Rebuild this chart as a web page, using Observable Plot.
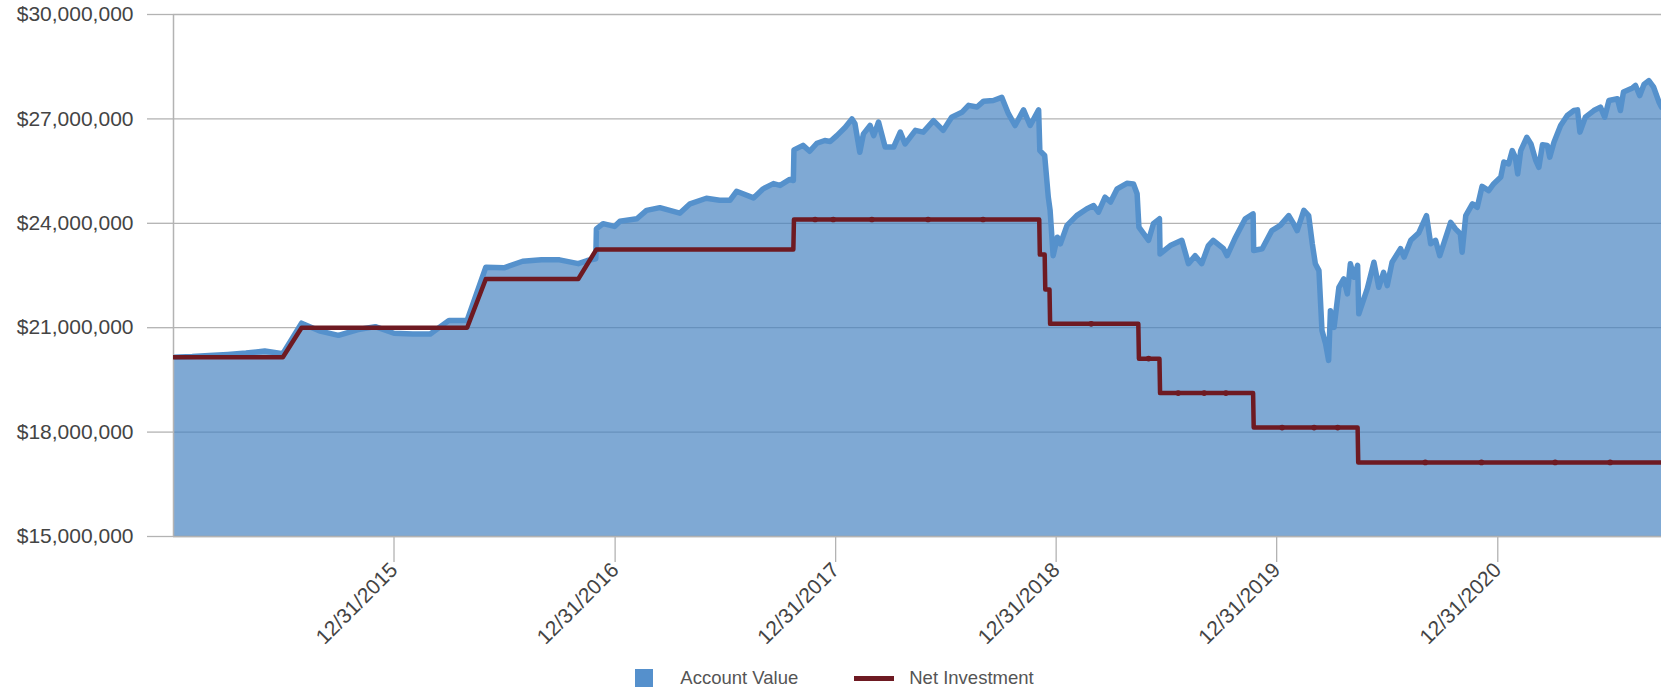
<!DOCTYPE html>
<html>
<head>
<meta charset="utf-8">
<script src="https://cdn.jsdelivr.net/npm/d3@7"></script>
<script src="https://cdn.jsdelivr.net/npm/@observablehq/plot@0.6"></script>
<style>
  html, body { margin: 0; padding: 0; background: #fff; }
  body { width: 1661px; height: 689px; position: relative; overflow: hidden; font-family: "Liberation Sans", Arial, sans-serif; }
  #legend { position: absolute; left: 4px; top: 668px; width: 1661px; height: 20px; display: flex; justify-content: center; align-items: center; font-size: 18.5px; color: #555; }
  .sw-box { width: 18px; height: 18px; background: #5590cc; margin-right: 27px; }
  .sw-line { width: 40px; height: 5px; background: #6e1a22; margin-left: 56px; margin-right: 15px; }
</style>
</head>
<body>
<div id="chart"></div>
<div id="legend"><span class="sw-box"></span><span>Account Value</span><span class="sw-line"></span><span>Net Investment</span></div>
<script>
// ---- Data (values in millions of dollars) ----
const avDates = [
"2014-12-31","2015-01-31","2015-02-28","2015-03-31","2015-04-30","2015-05-31","2015-06-30","2015-07-31","2015-08-31","2015-09-30","2015-10-31","2015-11-30","2015-12-31",
"2016-01-31","2016-02-29","2016-03-31","2016-04-30","2016-05-31","2016-06-30","2016-07-31","2016-08-31","2016-09-30","2016-10-31","2016-11-15","2016-11-29","2016-11-30","2016-12-11","2016-12-30",
"2017-01-08","2017-02-05","2017-02-21","2017-03-15","2017-04-17","2017-05-04","2017-05-31","2017-06-22","2017-07-09","2017-07-20","2017-08-17","2017-09-02","2017-09-19","2017-09-30","2017-10-16","2017-10-22","2017-10-23","2017-11-07","2017-11-18","2017-11-30","2017-12-13","2017-12-22",
"2018-01-02","2018-01-16","2018-01-27","2018-02-01","2018-02-09","2018-02-15","2018-02-26","2018-03-04","2018-03-12","2018-03-23","2018-04-06","2018-04-17","2018-04-25","2018-05-12","2018-05-25","2018-06-11","2018-06-27","2018-07-11","2018-07-28","2018-08-08","2018-08-22","2018-09-02","2018-09-18","2018-10-02","2018-10-13","2018-10-24","2018-11-07","2018-11-18","2018-12-02","2018-12-04","2018-12-12","2018-12-18","2018-12-21","2018-12-26",
"2019-01-02","2019-01-07","2019-01-18","2019-02-03","2019-02-20","2019-03-03","2019-03-11","2019-03-22","2019-03-31","2019-04-11","2019-04-27","2019-05-08","2019-05-14","2019-05-17","2019-06-02","2019-06-10","2019-06-20","2019-06-21","2019-07-08","2019-07-27","2019-08-07","2019-08-18","2019-08-29","2019-09-09","2019-09-17","2019-10-04","2019-10-10","2019-10-24","2019-11-09","2019-11-22","2019-11-23","2019-12-07","2019-12-23",
"2020-01-06","2020-01-20","2020-01-28","2020-02-03","2020-02-14","2020-02-22","2020-02-28","2020-03-04","2020-03-10","2020-03-15","2020-03-21","2020-03-26","2020-03-29","2020-04-04","2020-04-12","2020-04-20","2020-04-26","2020-05-01","2020-05-07","2020-05-13","2020-05-15","2020-05-29","2020-06-09","2020-06-17","2020-06-25","2020-07-01","2020-07-09","2020-07-23","2020-07-29","2020-08-09","2020-08-22","2020-09-04","2020-09-11","2020-09-19","2020-09-26","2020-10-14","2020-10-22","2020-10-30","2020-11-02","2020-11-08","2020-11-19","2020-11-27","2020-12-05","2020-12-16","2020-12-24",
"2021-01-05","2021-01-10","2021-01-18","2021-01-24","2021-01-29","2021-02-02","2021-02-07","2021-02-17","2021-02-24","2021-03-04","2021-03-09","2021-03-15","2021-03-23","2021-03-27","2021-04-03","2021-04-14","2021-04-25","2021-05-06","2021-05-12","2021-05-16","2021-05-25","2021-06-08","2021-06-19","2021-06-26","2021-07-03","2021-07-17","2021-07-22","2021-07-27","2021-08-11","2021-08-16","2021-08-23","2021-08-30","2021-09-07","2021-09-15","2021-09-24","2021-09-28"
];
const avValues = [
20.15,20.17,20.20,20.23,20.27,20.33,20.25,21.13,20.90,20.78,20.94,21.03,20.84,
20.82,20.82,21.21,21.21,22.74,22.72,22.91,22.95,22.95,22.84,22.93,22.98,23.84,23.99,23.91,
24.06,24.13,24.37,24.45,24.29,24.56,24.72,24.66,24.66,24.92,24.73,24.99,25.14,25.09,25.26,25.23,26.11,26.24,26.07,26.30,26.38,26.35,
26.52,26.76,27.00,26.86,26.04,26.57,26.81,26.52,26.91,26.19,26.19,26.62,26.28,26.67,26.62,26.95,26.67,27.05,27.19,27.39,27.34,27.51,27.53,27.62,27.15,26.81,27.26,26.81,27.26,26.09,25.95,24.75,24.37,23.07,
23.60,23.41,23.94,24.22,24.42,24.51,24.32,24.75,24.61,24.99,25.15,25.13,24.85,23.89,23.51,23.99,24.13,23.12,23.36,23.51,22.84,23.07,22.84,23.36,23.51,23.27,23.07,23.60,24.13,24.27,23.22,23.27,23.79,
23.94,24.22,23.99,23.79,24.37,24.22,23.41,22.84,22.64,20.92,20.54,20.06,21.49,21.01,22.16,22.40,21.97,22.84,22.45,22.79,21.40,22.12,22.88,22.16,22.59,22.21,22.88,23.27,23.03,23.51,23.72,24.22,23.41,23.51,23.07,24.03,23.84,23.70,23.17,24.22,24.56,24.46,25.06,24.94,25.13,
25.33,25.76,25.71,26.09,25.90,25.42,26.09,26.47,26.28,25.80,25.61,26.26,26.24,25.90,26.33,26.81,27.10,27.24,27.26,26.62,27.05,27.24,27.34,27.05,27.53,27.58,27.24,27.77,27.89,27.96,27.67,27.99,28.10,27.91,27.48,27.34
];
const niDates = [
"2014-12-31","2015-06-30","2015-07-31","2016-04-30","2016-05-31","2016-10-31","2016-11-30",
"2017-10-22","2017-10-23","2018-12-03","2018-12-04","2018-12-12","2018-12-13","2018-12-20","2018-12-21",
"2019-05-16","2019-05-17","2019-06-20","2019-06-21","2019-11-22","2019-11-23","2020-05-13","2020-05-14","2021-09-28"
];
const niValues = [
20.15,20.15,21.00,21.00,22.40,22.40,23.25,
23.25,24.11,24.11,23.10,23.10,22.10,22.10,21.11,
21.11,20.11,20.11,19.12,19.12,18.13,18.13,17.13,17.13
];
// transaction markers along the net investment line
const niMarkDates = ["2017-11-27","2017-12-27","2018-03-01","2018-06-02","2018-09-01","2019-02-27","2019-06-02","2019-07-21","2019-09-02","2019-10-08","2020-01-09","2020-03-02","2020-04-10","2020-09-02","2020-12-04","2021-04-05","2021-07-05"];
const yTicks = [15, 18, 21, 24, 27, 30];
const xTickDates = ["2015-12-31","2016-12-31","2017-12-31","2018-12-31","2019-12-31","2020-12-31"];
const xDomain = ["2014-12-31", "2021-09-28"];

// ---- Build ----
const parse = d3.utcParse("%Y-%m-%d");
const av = avDates.map((d, i) => ({date: parse(d), value: avValues[i] * 1e6}));
const ni = niDates.map((d, i) => ({date: parse(d), value: niValues[i] * 1e6}));
const niAt = (t) => { let v = ni[0].value; for (const p of ni) if (p.date <= t) v = p.value; return v; };
const niMarks = niMarkDates.map(d => { const t = parse(d); return {date: t, value: niAt(t)}; });

const gridColor = "#b3b3b3";
const textColor = "#444";
const chart = Plot.plot({
  width: 1661,
  height: 660,
  marginLeft: 173,
  marginRight: 0,
  marginTop: 14,
  marginBottom: 124,
  style: {fontFamily: "'Liberation Sans', Arial, sans-serif", fontSize: "21px", color: textColor, background: "#fff", overflow: "visible"},
  x: {type: "utc", domain: xDomain.map(parse)},
  y: {domain: [15e6, 30e6]},
  marks: [
    Plot.ruleY(yTicks.map(v => v * 1e6), {stroke: gridColor, strokeWidth: 1.3}),
    Plot.areaY(av, {x: "date", y1: 15e6, y2: "value", fill: "#4682c1", fillOpacity: 0.69, clip: true}),
    Plot.lineY(av, {x: "date", y: "value", stroke: "#5591cc", strokeWidth: 5.5, strokeLinejoin: "round", strokeLinecap: "round", clip: true}),
    Plot.ruleX([parse(xDomain[0])], {stroke: gridColor, strokeWidth: 1.5}),
    Plot.ruleY([15e6], {stroke: gridColor, strokeWidth: 1.5}),
    Plot.lineY(ni, {x: "date", y: "value", stroke: "#6e1a22", strokeWidth: 4.5, strokeLinejoin: "round", clip: true}),
    Plot.dot(niMarks, {x: "date", y: "value", r: 2.8, fill: "#6e1a22"}),
    Plot.axisY(yTicks.map(v => v * 1e6), {tickSize: 26, tickPadding: 14, tickFormat: d3.format("$,"), stroke: gridColor, strokeWidth: 1.3, fill: textColor, fontSize: 21, label: null}),
    Plot.axisX(xTickDates.map(parse), {tickSize: 26, tickPadding: 4, tickRotate: -45, tickFormat: d3.utcFormat("%m/%d/%Y"), stroke: gridColor, strokeWidth: 1.3, fill: textColor, fontSize: 21, label: null})
  ]
});
document.getElementById("chart").appendChild(chart);
</script>
</body>
</html>
